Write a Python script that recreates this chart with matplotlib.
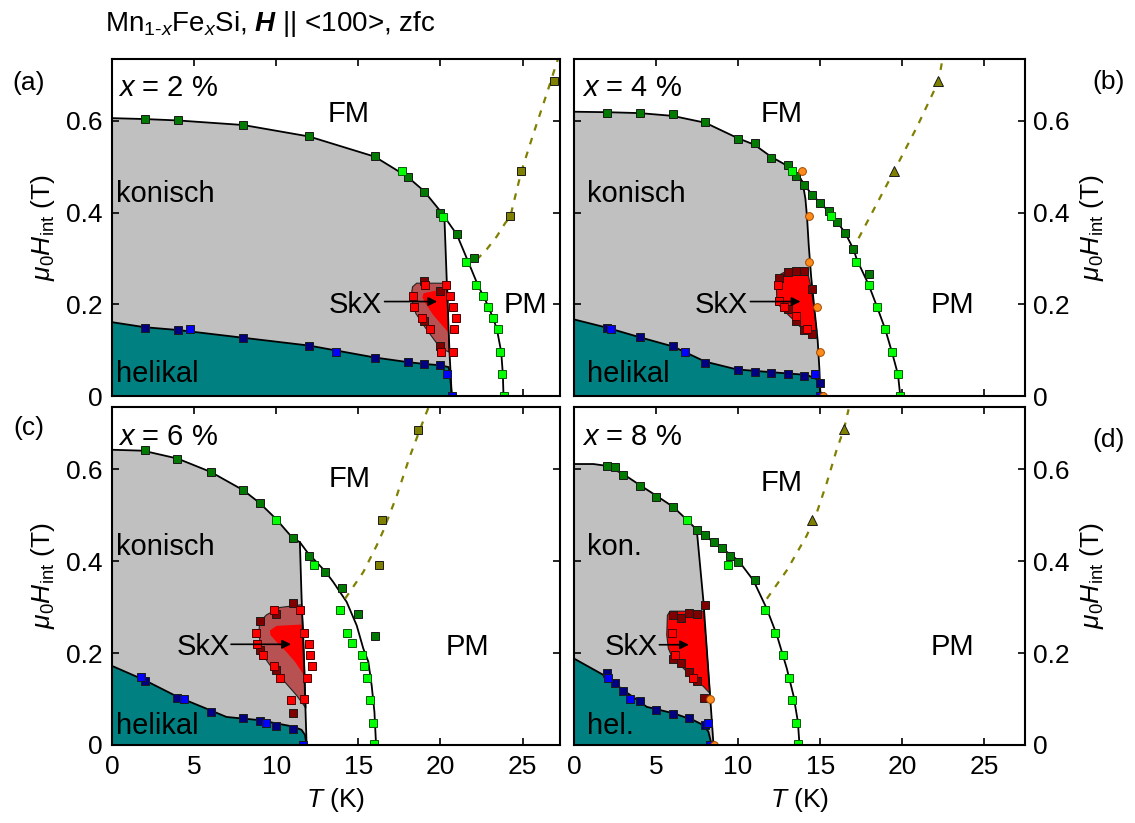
import matplotlib
matplotlib.use("Agg")
import matplotlib.pyplot as plt
from matplotlib.ticker import FuncFormatter, FixedLocator

plt.rcParams['font.family'] = ['Liberation Sans', 'DejaVu Sans']
plt.rcParams['mathtext.fontset'] = 'custom'
plt.rcParams['mathtext.rm'] = 'Liberation Sans'
plt.rcParams['mathtext.it'] = 'Liberation Sans:italic'
plt.rcParams['mathtext.bf'] = 'Liberation Sans:bold'
plt.rcParams['mathtext.bfit'] = 'Liberation Sans:bold:italic'

# ---------------- panel (a) x = 2 % ----------------
a_dg_T = [2, 4, 8, 12, 16, 18, 19, 20, 21, 22.03]
a_dg_H = [0.605, 0.603, 0.592, 0.566, 0.524, 0.478, 0.446, 0.400, 0.354, 0.302]
a_lg_T = [17.64, 20.14, 21.57, 22.17, 22.58, 22.89, 23.19, 23.5, 23.64, 23.76, 23.9]
a_lg_H = [0.491, 0.391, 0.293, 0.243, 0.219, 0.195, 0.171, 0.147, 0.096, 0.047, 0.0]
a_nv_T = [2, 4, 8, 12, 16, 18, 19, 20]
a_nv_H = [0.149, 0.144, 0.127, 0.110, 0.083, 0.074, 0.070, 0.068]
a_bl_T = [4.78, 13.64, 20.39, 20.7]
a_bl_H = [0.147, 0.096, 0.047, 0.0]
a_rd_T = [18.3, 18.37, 18.86, 19.37, 20.02, 20.33, 19.07, 20.57, 20.75, 20.92, 20.83, 20.75]
a_rd_H = [0.219, 0.195, 0.171, 0.147, 0.097, 0.243, 0.243, 0.219, 0.195, 0.171, 0.147, 0.097]
a_dr_T = [18.98, 20.0, 18.98, 20.0]
a_dr_H = [0.251, 0.230, 0.164, 0.108]
a_ol_T = [24.25, 24.92, 26.93]
a_ol_H = [0.392, 0.491, 0.687]
a_con_T = [0, 2, 4, 8, 12, 16, 18, 19, 20, 20.24]
a_con_H = [0.606, 0.604, 0.601, 0.591, 0.566, 0.522, 0.478, 0.447, 0.403, 0.391]
a_fmpm_T = [20.24, 21.0, 21.7, 22.3, 22.6, 22.92, 23.2, 23.43, 23.7, 23.8, 23.84]
a_fmpm_H = [0.391, 0.352, 0.292, 0.240, 0.219, 0.195, 0.170, 0.147, 0.096, 0.047, 0.0]
a_vert_T = [20.24, 20.39, 20.55, 20.69]
a_vert_H = [0.391, 0.246, 0.097, 0.0]
a_hel_T = [0, 2, 4, 8, 12, 16, 18, 19, 20, 20.5, 20.6, 20.69]
a_hel_H = [0.161, 0.150, 0.144, 0.127, 0.110, 0.084, 0.074, 0.070, 0.067, 0.063, 0.040, 0.0]
a_skx_T = [18.25, 18.3, 18.55, 20.43, 20.47, 20.52, 20.0, 19.1, 18.5, 18.25]
a_skx_H = [0.225, 0.238, 0.246, 0.246, 0.170, 0.096, 0.104, 0.148, 0.180, 0.210]
a_skxin_T = [18.97, 20.0, 20.43, 20.47, 19.57, 19.09, 18.9]
a_skxin_H = [0.224, 0.232, 0.232, 0.139, 0.176, 0.202, 0.215]
a_dash_T = [22.2, 22.82, 23.43, 23.94, 24.25, 24.92, 25.67, 26.48, 27.1, 27.3]
a_dash_H = [0.297, 0.320, 0.348, 0.377, 0.391, 0.489, 0.573, 0.660, 0.729, 0.750]

# ---------------- panel (b) x = 4 % ----------------
b_dg_T = [2.01, 4.02, 6.04, 7.99, 10.02, 11.04, 11.99, 13.03, 13.54, 14.02, 14.53, 15.0, 15.51, 16.02, 16.52, 16.99, 18.0]
b_dg_H = [0.618, 0.618, 0.614, 0.598, 0.560, 0.552, 0.520, 0.504, 0.480, 0.461, 0.438, 0.421, 0.403, 0.379, 0.356, 0.320, 0.267]
b_lg_T = [13.27, 15.65, 17.17, 17.95, 18.46, 18.96, 19.37, 19.74, 19.88]
b_lg_H = [0.491, 0.392, 0.293, 0.243, 0.195, 0.146, 0.096, 0.047, 0.0]
b_nv_T = [2.01, 4.02, 6.04, 7.99, 10.02, 11.04, 11.99, 13.03, 14.02, 15.0]
b_nv_H = [0.149, 0.128, 0.108, 0.073, 0.057, 0.053, 0.051, 0.047, 0.044, 0.029]
b_bl_T = [2.26, 6.75, 14.7, 15.0]
b_bl_H = [0.146, 0.096, 0.047, 0.0]
b_rd_T = [12.42, 12.5, 12.8, 13.54, 14.19]
b_rd_H = [0.243, 0.208, 0.195, 0.175, 0.147]
b_dr_T = [12.5, 13.03, 13.52, 14.02, 14.53, 13.03, 13.54, 14.02, 14.53]
b_dr_H = [0.258, 0.271, 0.273, 0.273, 0.233, 0.190, 0.164, 0.145, 0.135]
b_or_T = [13.92, 14.29, 14.33, 14.8, 15.0, 15.2]
b_or_H = [0.491, 0.392, 0.293, 0.195, 0.096, 0.0]
b_ol_T = [19.51, 22.2]
b_ol_H = [0.491, 0.687]
b_con_T = [0, 2, 3, 4, 6, 8, 10, 11, 12, 13, 13.74]
b_con_H = [0.620, 0.619, 0.618, 0.617, 0.611, 0.596, 0.562, 0.548, 0.522, 0.502, 0.478]
b_fmpm_T = [13.74, 14.02, 14.53, 15.0, 15.51, 16.02, 16.52, 17.03, 17.24, 17.95, 18.46, 18.96, 19.37, 19.74, 19.88]
b_fmpm_H = [0.478, 0.461, 0.438, 0.421, 0.403, 0.380, 0.356, 0.320, 0.297, 0.243, 0.195, 0.146, 0.096, 0.047, 0.0]
b_vert_T = [13.74, 13.95, 14.1, 14.2, 14.3, 14.45, 14.65, 14.85, 14.95, 15.02]
b_vert_H = [0.478, 0.462, 0.43, 0.39, 0.33, 0.26, 0.19, 0.12, 0.06, 0.0]
b_hel_T = [0, 2.01, 4.02, 6.04, 7.99, 9.92, 12, 14.19, 14.9, 15.04]
b_hel_H = [0.167, 0.149, 0.128, 0.108, 0.075, 0.058, 0.052, 0.046, 0.035, 0.0]
b_skx_T = [12.46, 12.97, 14.19, 14.39, 14.59, 14.8, 14.59, 14.09, 13.78, 13.37, 12.97, 12.56, 12.36, 12.32]
b_skx_H = [0.263, 0.273, 0.275, 0.246, 0.202, 0.140, 0.133, 0.140, 0.151, 0.166, 0.180, 0.195, 0.209, 0.246]
b_dash_T = [17.34, 18.46, 19.51, 20.9, 22.22, 22.5]
b_dash_H = [0.344, 0.420, 0.491, 0.587, 0.687, 0.745]

# ---------------- panel (c) x = 6 % ----------------
c_dg_T = [1.99, 3.98, 6.0, 8.0, 9.0, 11.0, 12.0, 13.0, 14.02, 15.0, 16.0]
c_dg_H = [0.641, 0.623, 0.594, 0.554, 0.526, 0.450, 0.412, 0.376, 0.341, 0.285, 0.237]
c_lg_T = [9.98, 12.28, 13.86, 14.29, 14.61, 15.24, 15.35, 15.51, 15.69, 15.87, 15.93]
c_lg_H = [0.489, 0.391, 0.293, 0.244, 0.221, 0.195, 0.171, 0.146, 0.098, 0.048, 0.003]
c_nv_T = [1.99, 3.98, 6.0, 8.0, 9.0, 9.98, 11.0]
c_nv_H = [0.140, 0.103, 0.072, 0.058, 0.052, 0.041, 0.034]
c_bl_T = [1.79, 4.37, 9.35, 11.65]
c_bl_H = [0.147, 0.099, 0.048, 0.0]
c_rd_T = [9.84, 11.42, 8.74, 8.8, 9.2, 9.84, 10.26, 10.87, 11.69, 11.69, 12.01, 12.05, 12.17, 11.85]
c_rd_H = [0.294, 0.293, 0.244, 0.219, 0.195, 0.171, 0.146, 0.098, 0.099, 0.244, 0.219, 0.195, 0.171, 0.146]
c_dr_T = [11.0, 9.98, 9.0, 9.0, 9.98, 11.0]
c_dr_H = [0.309, 0.284, 0.269, 0.206, 0.164, 0.069]
c_ol_T = [16.24, 16.42, 18.62]
c_ol_H = [0.391, 0.489, 0.685]
c_con_T = [0, 1.89, 3.98, 6.0, 8.0, 9.0, 9.98, 11.0, 11.44]
c_con_H = [0.642, 0.640, 0.623, 0.594, 0.554, 0.526, 0.492, 0.450, 0.441]
c_fmpm_T = [11.44, 12.0, 12.26, 13.0, 13.48, 14.29, 14.9, 15.3, 15.61, 15.81, 15.98, 16.08]
c_fmpm_H = [0.441, 0.414, 0.405, 0.377, 0.354, 0.311, 0.260, 0.210, 0.181, 0.130, 0.072, 0.0]
c_vert_T = [11.44, 11.54, 11.69, 11.85]
c_vert_H = [0.441, 0.325, 0.181, 0.0]
c_hel_T = [0, 1.99, 3.98, 5.96, 6.97, 9.0, 11.04, 11.54, 11.75, 11.85]
c_hel_H = [0.172, 0.141, 0.105, 0.076, 0.061, 0.054, 0.040, 0.033, 0.022, 0.0]
c_skx_T = [9.0, 9.41, 10.22, 11.54, 11.65, 11.75, 11.81, 11.24, 10.33, 9.61, 9.2, 9.0, 8.96]
c_skx_H = [0.268, 0.283, 0.299, 0.305, 0.253, 0.145, 0.080, 0.108, 0.145, 0.174, 0.195, 0.224, 0.253]
c_skxin_T = [9.61, 10.02, 11.54, 11.65, 11.69, 11.14, 10.63, 10.02, 9.65]
c_skxin_H = [0.249, 0.259, 0.262, 0.210, 0.152, 0.181, 0.202, 0.224, 0.239]
c_dash_T = [14.19, 15.3, 16.12, 16.52, 17.34, 18.15, 19.07, 19.4]
c_dash_H = [0.318, 0.376, 0.434, 0.466, 0.542, 0.629, 0.716, 0.745]

# ---------------- panel (d) x = 8 % ----------------
d_dg_T = [2.01, 2.5, 3.01, 4.02, 5.02, 6.04, 7.48, 7.99, 8.52, 9.0, 9.51, 10.02, 11.04]
d_dg_H = [0.606, 0.604, 0.587, 0.564, 0.540, 0.517, 0.468, 0.456, 0.441, 0.428, 0.412, 0.399, 0.359]
d_lg_T = [6.89, 9.41, 11.65, 12.26, 12.76, 13.13, 13.27, 13.54, 13.64]
d_lg_H = [0.489, 0.391, 0.293, 0.244, 0.195, 0.146, 0.098, 0.048, 0.002]
d_nv_T = [2.01, 2.5, 3.01, 4.02, 5.02, 6.04, 7.01, 7.99]
d_nv_H = [0.157, 0.134, 0.117, 0.096, 0.077, 0.068, 0.058, 0.043]
d_bl_T = [2.05, 3.41, 8.15, 8.29]
d_bl_H = [0.146, 0.099, 0.048, 0.0]
d_rd_T = [5.98, 6.16, 7.24]
d_rd_H = [0.244, 0.195, 0.146]
d_dr_T = [6.04, 6.52, 7.01, 7.48, 7.99, 6.04, 6.52, 7.01, 7.48, 7.95]
d_dr_H = [0.282, 0.276, 0.287, 0.284, 0.305, 0.187, 0.179, 0.159, 0.139, 0.103]
d_or_T = [8.29, 8.5]
d_or_H = [0.099, 0.0]
d_ol_T = [14.49, 16.46]
d_ol_H = [0.490, 0.688]
d_con_T = [0, 1.18, 2.01, 3.01, 4.02, 5.02, 6.04, 6.87, 7.48]
d_con_H = [0.611, 0.611, 0.607, 0.589, 0.565, 0.542, 0.518, 0.490, 0.468]
d_fmpm_T = [7.48, 8.52, 10.02, 10.93, 11.75, 12.36, 12.97, 13.37, 13.64, 13.74]
d_fmpm_H = [0.468, 0.441, 0.401, 0.358, 0.296, 0.239, 0.166, 0.108, 0.051, 0.0]
d_vert_T = [7.48, 7.89, 8.29, 8.5]
d_vert_H = [0.468, 0.311, 0.108, 0.0]
d_hel_T = [0, 2.01, 3.01, 4.02, 4.43, 5.24, 6.06, 7.28, 7.89, 8.19, 8.39]
d_hel_H = [0.188, 0.148, 0.119, 0.094, 0.083, 0.076, 0.069, 0.054, 0.043, 0.029, 0.0]
d_skx_T = [5.69, 5.85, 7.89, 8.09, 8.29, 7.89, 7.28, 6.46, 5.96, 5.75, 5.65]
d_skx_H = [0.282, 0.291, 0.291, 0.210, 0.112, 0.127, 0.145, 0.174, 0.192, 0.210, 0.239]
d_dash_T = [11.75, 12.97, 14.19, 14.8, 15.41, 16.02, 16.46, 16.73]
d_dash_H = [0.318, 0.380, 0.456, 0.506, 0.571, 0.644, 0.688, 0.730]

x_ticks = [0, 5, 10, 15, 20, 25]
y_ticks = [0, 0.2, 0.4, 0.6]
concentrations = ['2', '4', '6', '8']
panel_letters = ['(a)', '(b)', '(c)', '(d)']

# ---------------- styling ----------------
C_GRAY = '#c0c0c0'
C_TEAL = '#008080'
C_SKX_OUT = '#b85252'
C_RED = '#ff0000'
C_DG = '#007a00'
C_LG = '#00ff00'
C_NV = '#000080'
C_BL = '#0000ff'
C_DR = '#800000'
C_OL = '#808000'
C_OR = '#ff8c1a'

FS_TICK = 19
FS_TXT = 21

fig = plt.figure(figsize=(11.35, 8.23), dpi=100)
W, Hh = 1135.0, 823.0

def rect(l, r, t, b):
    return [l / W, 1 - b / Hh, (r - l) / W, (b - t) / Hh]

axA = fig.add_axes(rect(112, 560, 59, 396))
axB = fig.add_axes(rect(574, 1025, 59, 396))
axC = fig.add_axes(rect(112, 560, 407, 745))
axD = fig.add_axes(rect(574, 1025, 407, 745))

yfmt = FuncFormatter(lambda v, p: '0' if abs(v) < 1e-9 else f'{v:.1f}')

def sq(ax, T, H, fc, mec='#1a1a1a', marker='s', ms=5.4):
    ax.plot(T, H, ls='none', marker=marker, ms=ms, mfc=fc, mec=mec, mew=0.7, zorder=7)

panels = [
    dict(ax=axA, xmax=27.28, right=False, bottom=False,
         con=(a_con_T, a_con_H), fmpm=(a_fmpm_T, a_fmpm_H), vert=(a_vert_T, a_vert_H),
         hel=(a_hel_T, a_hel_H), skx=(a_skx_T, a_skx_H), skxin=(a_skxin_T, a_skxin_H),
         dash=(a_dash_T, a_dash_H),
         dg=(a_dg_T, a_dg_H), lg=(a_lg_T, a_lg_H), nv=(a_nv_T, a_nv_H), bl=(a_bl_T, a_bl_H),
         rd=(a_rd_T, a_rd_H), dr=(a_dr_T, a_dr_H), ol=(a_ol_T, a_ol_H), olm='s', orc=None,
         tx=dict(x=(0.37, 0.654), fm=(14.39, 0.598), kon=(0.26, 0.424, 'konisch'),
                 skx=(14.84, 0.180), arrow=((16.6, 0.206), (19.8, 0.206)),
                 pm=(25.16, 0.180), hel=(0.26, 0.031, 'helikal'))),
    dict(ax=axB, xmax=27.48, right=True, bottom=False,
         con=(b_con_T, b_con_H), fmpm=(b_fmpm_T, b_fmpm_H), vert=(b_vert_T, b_vert_H),
         hel=(b_hel_T, b_hel_H), skx=(b_skx_T, b_skx_H), skxin=None,
         dash=(b_dash_T, b_dash_H),
         dg=(b_dg_T, b_dg_H), lg=(b_lg_T, b_lg_H), nv=(b_nv_T, b_nv_H), bl=(b_bl_T, b_bl_H),
         rd=(b_rd_T, b_rd_H), dr=(b_dr_T, b_dr_H), ol=(b_ol_T, b_ol_H), olm='^', orc=(b_or_T, b_or_H),
         tx=dict(x=(0.47, 0.654), fm=(12.66, 0.598), kon=(0.81, 0.424, 'konisch'),
                 skx=(9.0, 0.180), arrow=((10.75, 0.206), (13.8, 0.206)),
                 pm=(23.03, 0.180), hel=(0.81, 0.031, 'helikal'))),
    dict(ax=axC, xmax=27.28, right=False, bottom=True,
         con=(c_con_T, c_con_H), fmpm=(c_fmpm_T, c_fmpm_H), vert=(c_vert_T, c_vert_H),
         hel=(c_hel_T, c_hel_H), skx=(c_skx_T, c_skx_H), skxin=(c_skxin_T, c_skxin_H),
         dash=(c_dash_T, c_dash_H),
         dg=(c_dg_T, c_dg_H), lg=(c_lg_T, c_lg_H), nv=(c_nv_T, c_nv_H), bl=(c_bl_T, c_bl_H),
         rd=(c_rd_T, c_rd_H), dr=(c_dr_T, c_dr_H), ol=(c_ol_T, c_ol_H), olm='s', orc=None,
         tx=dict(x=(0.37, 0.652), fm=(14.45, 0.560), kon=(0.26, 0.414, 'konisch'),
                 skx=(5.55, 0.195), arrow=((7.25, 0.219), (10.9, 0.219)),
                 pm=(21.67, 0.195), hel=(0.26, 0.025, 'helikal'))),
    dict(ax=axD, xmax=27.48, right=True, bottom=True,
         con=(d_con_T, d_con_H), fmpm=(d_fmpm_T, d_fmpm_H), vert=(d_vert_T, d_vert_H),
         hel=(d_hel_T, d_hel_H), skx=(d_skx_T, d_skx_H), skxin=None,
         dash=(d_dash_T, d_dash_H),
         dg=(d_dg_T, d_dg_H), lg=(d_lg_T, d_lg_H), nv=(d_nv_T, d_nv_H), bl=(d_bl_T, d_bl_H),
         rd=(d_rd_T, d_rd_H), dr=(d_dr_T, d_dr_H), ol=(d_ol_T, d_ol_H), olm='^', orc=(d_or_T, d_or_H),
         tx=dict(x=(0.47, 0.652), fm=(12.66, 0.553), kon=(0.81, 0.414, 'kon.'),
                 skx=(3.52, 0.195), arrow=((5.2, 0.218), (7.0, 0.218)),
                 pm=(23.03, 0.195), hel=(0.81, 0.025, 'hel.'))),
]

for i, p in enumerate(panels):
    ax = p['ax']
    ax.set_xlim(0, p['xmax'])
    ax.set_ylim(0, 0.735)
    conT, conH = p['con']
    vT, vH = p['vert']
    fT, fH = p['fmpm']
    hT, hH = p['hel']
    # conical (gray) region
    gx = list(conT) + list(vT[1:]) + [0]
    gy = list(conH) + list(vH[1:]) + [0]
    ax.fill(gx, gy, color=C_GRAY, lw=0, zorder=1)
    # helical (teal) region
    ax.fill(list(hT) + [0], list(hH) + [0], color=C_TEAL, lw=0, zorder=2)
    # SkX
    sT, sH = p['skx']
    if p['skxin'] is not None:
        ax.fill(sT, sH, fc=C_SKX_OUT, ec='#222222', lw=0.8, zorder=3)
        iT, iH = p['skxin']
        ax.fill(iT, iH, fc=C_RED, lw=0, zorder=4)
    else:
        ax.fill(sT, sH, fc=C_RED, ec='#222222', lw=0.8, zorder=3)
    # lines
    ax.plot(list(conT) + list(fT[1:]), list(conH) + list(fH[1:]), color='k', lw=1.3, zorder=5)
    ax.plot(vT, vH, color='k', lw=1.3, zorder=5)
    ax.plot(hT, hH, color='k', lw=1.3, zorder=5)
    dT, dH = p['dash']
    ax.plot(dT, dH, color=C_OL, lw=1.6, ls=(0, (3.0, 3.5)), zorder=5)
    # markers
    sq(ax, *p['dg'], C_DG)
    sq(ax, *p['lg'], C_LG, mec='#0a5a0a')
    sq(ax, *p['nv'], C_NV)
    sq(ax, *p['bl'], C_BL)
    sq(ax, *p['dr'], C_DR)
    sq(ax, *p['rd'], C_RED, mec='#4a0000')
    if p['olm'] == '^':
        sq(ax, *p['ol'], C_OL, marker='^', ms=6.8)
    else:
        sq(ax, *p['ol'], C_OL)
    if p['orc'] is not None:
        sq(ax, *p['orc'], C_OR, mec='#a04800', marker='o', ms=5.6)

    # texts
    tx = p['tx']
    ax.text(tx['x'][0], tx['x'][1], r'$x$ = ' + concentrations[i] + ' %', fontsize=FS_TXT,
            ha='left', va='baseline', zorder=8)
    ax.text(tx['fm'][0], tx['fm'][1], 'FM', fontsize=FS_TXT, ha='center', va='baseline', zorder=8)
    ax.text(tx['pm'][0], tx['pm'][1], 'PM', fontsize=FS_TXT, ha='center', va='baseline', zorder=8)
    ax.text(tx['kon'][0], tx['kon'][1], tx['kon'][2], fontsize=FS_TXT, ha='left', va='baseline', zorder=8)
    ax.text(tx['hel'][0], tx['hel'][1], tx['hel'][2], fontsize=FS_TXT, ha='left', va='baseline', zorder=8)
    ax.text(tx['skx'][0], tx['skx'][1], 'SkX', fontsize=FS_TXT, ha='center', va='baseline', zorder=8)
    (a0, a1) = tx['arrow']
    ax.annotate('', xy=a1, xytext=a0,
                arrowprops=dict(arrowstyle='-|>', color='k', lw=1.2, mutation_scale=13,
                                shrinkA=0, shrinkB=0), zorder=8)

    # axes styling
    for s in ax.spines.values():
        s.set_linewidth(1.5)
        s.set_zorder(10)
    ax.xaxis.set_major_locator(FixedLocator(x_ticks))
    ax.yaxis.set_major_locator(FixedLocator(y_ticks))
    ax.yaxis.set_major_formatter(yfmt)
    ax.tick_params(direction='in', length=5, width=1.2, top=True, right=True, left=True, bottom=True,
                   labelsize=FS_TICK, pad=7)
    ax.tick_params(axis='x', labelbottom=p['bottom'])
    if p['right']:
        ax.tick_params(axis='y', labelleft=False, labelright=True, pad=6)
        ax.yaxis.set_label_position('right')
    ax.set_ylabel(r'$\mu_0H_{\mathrm{int}}$ (T)', fontsize=FS_TICK, labelpad=6)
    if p['bottom']:
        ax.set_xlabel(r'$T$ (K)', fontsize=FS_TICK, labelpad=5)

# panel letters
fig.text(29 / W, 1 - 83 / Hh, '(a)', fontsize=FS_TICK, ha='center', va='center')
fig.text(1109 / W, 1 - 82 / Hh, '(b)', fontsize=FS_TICK, ha='center', va='center')
fig.text(29 / W, 1 - 428 / Hh, '(c)', fontsize=FS_TICK, ha='center', va='center')
fig.text(1109 / W, 1 - 440 / Hh, '(d)', fontsize=FS_TICK, ha='center', va='center')

# title
fig.text(105 / W, 1 - 31 / Hh, r'Mn$_{1\text{-}x}$Fe$_{x}$Si, $\mathbfit{H}$ || <100>, zfc',
         fontsize=20, ha='left', va='baseline')

fig.savefig('out.png', dpi=100)
